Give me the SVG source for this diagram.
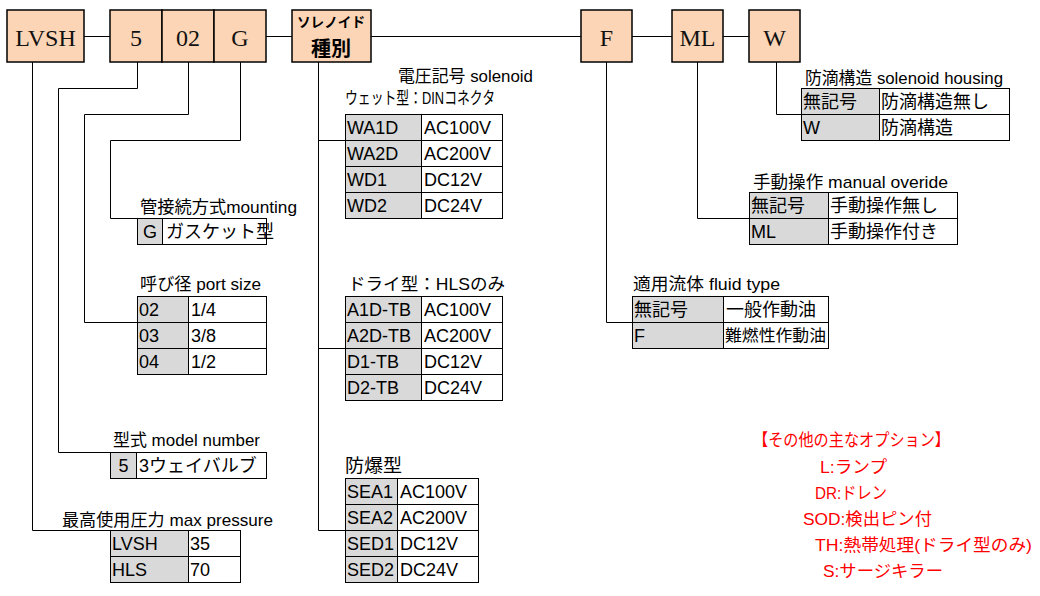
<svg xmlns="http://www.w3.org/2000/svg" width="1040" height="596" viewBox="0 0 1040 596">
<style>
.box{fill:#FBD5B5;stroke:#000;stroke-width:1.5}
.gc{fill:#D9D9D9;stroke:#000;stroke-width:1}
.wc{fill:#fff;stroke:#000;stroke-width:1}
.conn{fill:none;stroke:#000;stroke-width:1}
text{font-family:"Liberation Sans","Noto Sans CJK JP",sans-serif;fill:#000}
.t{font-size:18px}
.ts{font-size:16px}
.h{font-size:17px}
.red{font-size:17px;fill:#f00}
.top{font-family:"Liberation Serif","Noto Serif CJK JP",serif;font-size:24px;text-anchor:middle;fill:#111}
.jb{font-family:"Noto Sans CJK JP",sans-serif;font-weight:bold;text-anchor:middle}
.c{text-anchor:middle}
</style>
<rect width="1040" height="596" fill="#fff"/>
<g id="connectors">
<path class="conn" d="M84,36.5H110M266,36.5H292M371,36.5H581M632,36.5H672M723,36.5H749"/>
<path class="conn" d="M32.5,62V530.5H110"/>
<path class="conn" d="M137.5,62V88.5H58.5V452.5H110"/>
<path class="conn" d="M188.5,62V114.5H84.5V322.5H137"/>
<path class="conn" d="M240.5,62V140.5H110.5V218.5H137"/>
<path class="conn" d="M318.5,62V530.5H345M318.5,140.5H345M318.5,348.5H345"/>
<path class="conn" d="M606.5,62V322.5H632"/>
<path class="conn" d="M697.5,62V218.5H749"/>
<path class="conn" d="M776.5,62V114.5H801"/>
</g>
<g id="node-lvsh"><rect class="box" x="7" y="10" width="77" height="52"/><text class="top" x="45.5" y="46">LVSH</text></g>
<g id="node-5"><rect class="box" x="110" y="10" width="52" height="52"/><text class="top" x="136" y="46">5</text></g>
<g id="node-02"><rect class="box" x="162" y="10" width="52" height="52"/><text class="top" x="188" y="46">02</text></g>
<g id="node-g"><rect class="box" x="214" y="10" width="52" height="52"/><text class="top" x="240" y="46">G</text></g>
<g id="node-solenoid"><rect class="box" x="292" y="10" width="79" height="52"/>
<text class="jb" x="331" y="27" font-size="14" textLength="68" lengthAdjust="spacingAndGlyphs">ソレノイド</text>
<text class="jb" x="331" y="56" font-size="20">種別</text></g>
<g id="node-f"><rect class="box" x="581" y="10" width="51" height="52"/><text class="top" x="606.5" y="46">F</text></g>
<g id="node-ml"><rect class="box" x="672" y="10" width="51" height="52"/><text class="top" x="697.5" y="46">ML</text></g>
<g id="node-w"><rect class="box" x="749" y="10" width="51" height="52"/><text class="top" x="774.5" y="46">W</text></g>

<g id="table-mounting">
<text class="h" x="140" y="213" textLength="157" lengthAdjust="spacingAndGlyphs">管接続方式mounting</text>
<rect class="gc" x="137.5" y="218.5" width="25" height="26"/><rect class="wc" x="162.5" y="218.5" width="104" height="26"/>
<text class="t c" x="150" y="238">G</text><text class="t" x="166" y="238">ガスケット型</text>
</g>
<g id="table-port">
<text class="h" x="140" y="290" textLength="121" lengthAdjust="spacingAndGlyphs">呼び径 port size</text>
<rect class="gc" x="137.5" y="296.5" width="51" height="78"/><rect class="wc" x="188.5" y="296.5" width="78" height="78"/>
<path class="conn" d="M137,322.5H267M137,348.5H267"/>
<text class="t" x="139" y="316">02</text><text class="t" x="191" y="316">1/4</text>
<text class="t" x="139" y="342">03</text><text class="t" x="191" y="342">3/8</text>
<text class="t" x="139" y="368">04</text><text class="t" x="191" y="368">1/2</text>
</g>
<g id="table-model">
<text class="h" x="113" y="446" textLength="147" lengthAdjust="spacingAndGlyphs">型式 model number</text>
<rect class="gc" x="110.5" y="452.5" width="26" height="26"/><rect class="wc" x="136.5" y="452.5" width="130" height="26"/>
<text class="t c" x="123.5" y="472">5</text><text class="t" x="139" y="472">3ウェイバルブ</text>
</g>
<g id="table-pressure">
<text class="h" x="62" y="526" textLength="211" lengthAdjust="spacingAndGlyphs">最高使用圧力 max pressure</text>
<rect class="gc" x="110.5" y="530.5" width="78" height="52"/><rect class="wc" x="188.5" y="530.5" width="52" height="52"/>
<path class="conn" d="M110,556.5H241"/>
<text class="t" x="112" y="550">LVSH</text><text class="t" x="190" y="550">35</text>
<text class="t" x="112" y="576">HLS</text><text class="t" x="190" y="576">70</text>
</g>
<g id="table-wet">
<text class="h" x="398" y="82" textLength="135" lengthAdjust="spacingAndGlyphs">電圧記号 solenoid</text>
<text class="h" x="345" y="104" textLength="150" lengthAdjust="spacingAndGlyphs">ウェット型：DINコネクタ</text>
<rect class="gc" x="345.5" y="114.5" width="76" height="104"/><rect class="wc" x="421.5" y="114.5" width="81" height="104"/>
<path class="conn" d="M345,140.5H503M345,166.5H503M345,192.5H503"/>
<text class="t" x="347" y="134">WA1D</text><text class="t" x="424" y="134">AC100V</text>
<text class="t" x="347" y="160">WA2D</text><text class="t" x="424" y="160">AC200V</text>
<text class="t" x="347" y="186">WD1</text><text class="t" x="424" y="186">DC12V</text>
<text class="t" x="347" y="212">WD2</text><text class="t" x="424" y="212">DC24V</text>
</g>
<g id="table-dry">
<text class="h" x="348" y="290" textLength="157" lengthAdjust="spacingAndGlyphs">ドライ型：HLSのみ</text>
<rect class="gc" x="345.5" y="296.5" width="76" height="104"/><rect class="wc" x="421.5" y="296.5" width="81" height="104"/>
<path class="conn" d="M345,322.5H503M345,348.5H503M345,374.5H503"/>
<text class="t" x="347" y="316">A1D-TB</text><text class="t" x="424" y="316">AC100V</text>
<text class="t" x="347" y="342">A2D-TB</text><text class="t" x="424" y="342">AC200V</text>
<text class="t" x="347" y="368">D1-TB</text><text class="t" x="424" y="368">DC12V</text>
<text class="t" x="347" y="394">D2-TB</text><text class="t" x="424" y="394">DC24V</text>
</g>
<g id="table-explosion">
<text class="t" x="345" y="472" textLength="57" lengthAdjust="spacingAndGlyphs">防爆型</text>
<rect class="gc" x="345.5" y="478.5" width="52" height="104"/><rect class="wc" x="397.5" y="478.5" width="81" height="104"/>
<path class="conn" d="M345,504.5H479M345,530.5H479M345,556.5H479"/>
<text class="t" x="347" y="498">SEA1</text><text class="t" x="400" y="498">AC100V</text>
<text class="t" x="347" y="524">SEA2</text><text class="t" x="400" y="524">AC200V</text>
<text class="t" x="347" y="550">SED1</text><text class="t" x="400" y="550">DC12V</text>
<text class="t" x="347" y="576">SED2</text><text class="t" x="400" y="576">DC24V</text>
</g>
<g id="table-fluid">
<text class="h" x="633" y="290" textLength="147" lengthAdjust="spacingAndGlyphs">適用流体 fluid type</text>
<rect class="gc" x="632.5" y="296.5" width="91" height="52"/><rect class="wc" x="723.5" y="296.5" width="105" height="52"/>
<path class="conn" d="M632,322.5H829"/>
<text class="t" x="634" y="316">無記号</text><text class="t" x="726" y="316">一般作動油</text>
<text class="t" x="634" y="342">F</text><text class="ts" x="725" y="341" textLength="101" lengthAdjust="spacingAndGlyphs">難燃性作動油</text>
</g>
<g id="table-manual">
<text class="h" x="753" y="188" textLength="195" lengthAdjust="spacingAndGlyphs">手動操作 manual overide</text>
<rect class="gc" x="749.5" y="192.5" width="79" height="52"/><rect class="wc" x="828.5" y="192.5" width="129" height="52"/>
<path class="conn" d="M749,218.5H958"/>
<text class="t" x="751" y="212">無記号</text><text class="t" x="830" y="212">手動操作無し</text>
<text class="t" x="751" y="238">ML</text><text class="t" x="830" y="238">手動操作付き</text>
</g>
<g id="table-housing">
<text class="h" x="805" y="84" textLength="198" lengthAdjust="spacingAndGlyphs">防滴構造 solenoid housing</text>
<rect class="gc" x="801.5" y="88.5" width="78" height="52"/><rect class="wc" x="879.5" y="88.5" width="130" height="52"/>
<path class="conn" d="M801,114.5H1010"/>
<text class="t" x="803" y="108">無記号</text><text class="t" x="881" y="108">防滴構造無し</text>
<text class="t" x="803" y="134">W</text><text class="t" x="881" y="134">防滴構造</text>
</g>
<g id="options">
<text class="red" x="753" y="446" textLength="197" lengthAdjust="spacingAndGlyphs">【その他の主なオプション】</text>
<text class="red" x="820" y="473" textLength="67" lengthAdjust="spacingAndGlyphs">L:ランプ</text>
<text class="red" x="815" y="499" textLength="72" lengthAdjust="spacingAndGlyphs">DR:ドレン</text>
<text class="red" x="803" y="525" textLength="129" lengthAdjust="spacingAndGlyphs">SOD:検出ピン付</text>
<text class="red" x="815" y="551" textLength="217" lengthAdjust="spacingAndGlyphs">TH:熱帯処理(ドライ型のみ)</text>
<text class="red" x="823" y="577" textLength="120" lengthAdjust="spacingAndGlyphs">S:サージキラー</text>
</g>
</svg>
